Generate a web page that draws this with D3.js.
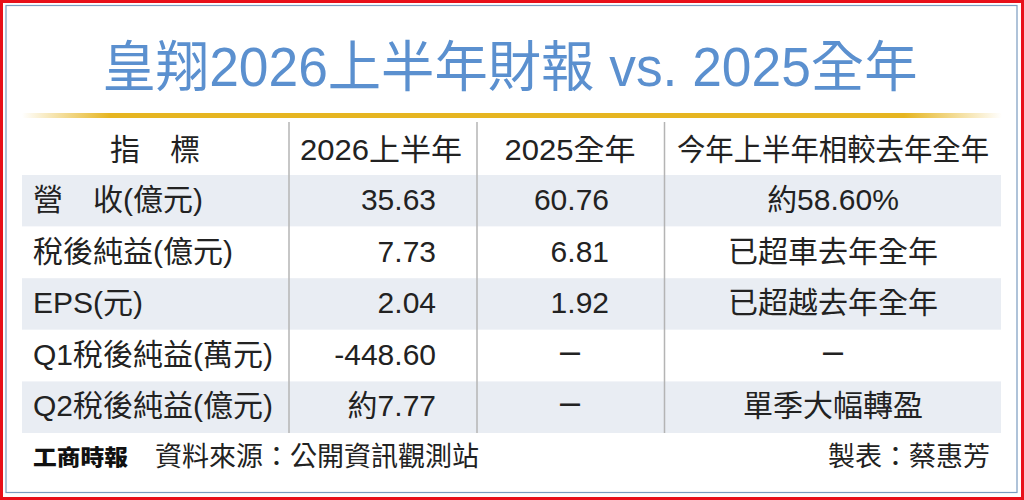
<!DOCTYPE html>
<html>
<head>
<meta charset="utf-8">
<script src="https://cdn.jsdelivr.net/npm/d3@7/dist/d3.min.js"></script>
<style>
  html, body { margin: 0; padding: 0; background: #fff; }
  svg { display: block; }
</style>
</head>
<body>
<script>
// ---- data ----
const title = "皇翔2026上半年財報 vs. 2025全年";
const headers = ["指　標", "2026上半年", "2025全年", "今年上半年相較去年全年"];
const rowLabels = ["營　收(億元)", "稅後純益(億元)", "EPS(元)", "Q1稅後純益(萬元)", "Q2稅後純益(億元)"];
const values2026 = ["35.63", "7.73", "2.04", "-448.60", "約7.77"];
const values2025 = ["60.76", "6.81", "1.92", "–", "–"];
const comparisons = ["約58.60%", "已超車去年全年", "已超越去年全年", "–", "單季大幅轉盈"];
const sourceText = "資料來源：公開資訊觀測站";
const makerText = "製表：蔡惠芳";
const logoText = "工商時報";

// ---- layout ----
const W = 1024, H = 500;
const FONT = "'Liberation Sans', Arial, 'Noto Sans CJK TC', sans-serif";
const TXT = "#222";
const svg = d3.select("body").append("svg").attr("width", W).attr("height", H);

// frame
svg.append("rect").attr("x", 1.5).attr("y", 1.5).attr("width", W - 3).attr("height", H - 3)
  .attr("fill", "#fff").attr("stroke", "#e8101a").attr("stroke-width", 3);
svg.append("rect").attr("x", 6).attr("y", 5.5).attr("width", 1011).attr("height", 487)
  .attr("fill", "#fff").attr("stroke", "#7a9cc0").attr("stroke-width", 1.2);

// title
svg.append("text").attr("x", 510).attr("y", 86).attr("text-anchor", "middle")
  .attr("font-family", FONT).attr("font-size", 55).attr("fill", "#5b90cf")
  .attr("textLength", 815).attr("lengthAdjust", "spacingAndGlyphs")
  .text(title);

// gold gradient rule
const defs = svg.append("defs");
const grad = defs.append("linearGradient").attr("id", "gold").attr("x1", "0").attr("x2", "1");
[[0, 0], [0.09, 1], [0.9, 1], [1, 0]].forEach(([o, a]) =>
  grad.append("stop").attr("offset", o).attr("stop-color", "#e6b521").attr("stop-opacity", a));
svg.append("rect").attr("x", 22).attr("y", 113).attr("width", 980).attr("height", 5).attr("fill", "url(#gold)");

// columns
const colEdges = [22, 289, 477, 664.5, 1001];
const y = d3.scaleBand().domain(d3.range(rowLabels.length)).range([175, 433]).padding(0);

// row stripes
svg.append("g").selectAll("rect").data(rowLabels).join("rect")
  .attr("x", colEdges[0]).attr("width", colEdges[4] - colEdges[0])
  .attr("y", (d, i) => y(i)).attr("height", y.bandwidth())
  .attr("fill", (d, i) => i % 2 === 0 ? "#e9edf3" : "#fff");

// column separators
svg.append("g").selectAll("line").data(colEdges.slice(1, 4)).join("line")
  .attr("x1", d => d).attr("x2", d => d).attr("y1", 122).attr("y2", 433)
  .attr("stroke", "#b4b4b4").attr("stroke-width", 1.5);

// header
const hx = [155, 381, 570, 833];
const hLen = [null, 162, 131, 312];
svg.append("g").selectAll("text").data(headers).join("text")
  .attr("x", (d, i) => hx[i]).attr("y", 160).attr("text-anchor", "middle")
  .attr("font-family", FONT).attr("font-size", 30).attr("fill", TXT)
  .each(function (d, i) {
    if (hLen[i]) d3.select(this).attr("textLength", hLen[i]).attr("lengthAdjust", "spacingAndGlyphs");
  })
  .text(d => d);

const body = svg.append("g").attr("font-family", FONT).attr("font-size", 30).attr("fill", TXT);
const base = i => y(i) + 35;
const isDash = d => d === "–";

body.selectAll("text.lab").data(rowLabels).join("text").attr("class", "lab")
  .attr("x", 33).attr("y", (d, i) => base(i)).text(d => d);

body.selectAll("text.v26").data(values2026).join("text").attr("class", "v26")
  .attr("x", 436).attr("y", (d, i) => base(i)).attr("text-anchor", "end").text(d => d);

body.selectAll("text.v25").data(values2025).join("text").attr("class", "v25")
  .attr("x", d => isDash(d) ? 570 : 609).attr("y", (d, i) => base(i) - (isDash(d) ? 2 : 0))
  .attr("text-anchor", d => isDash(d) ? "middle" : "end")
  .attr("font-size", d => isDash(d) ? 36 : 30).text(d => d);

body.selectAll("text.cmp").data(comparisons).join("text").attr("class", "cmp")
  .attr("x", 833).attr("y", (d, i) => base(i) - (isDash(d) ? 2 : 0)).attr("text-anchor", "middle")
  .attr("font-size", d => isDash(d) ? 36 : 30).text(d => d);

// footer
svg.append("text").attr("x", 33).attr("y", 465)
  .attr("font-family", "'Noto Sans CJK TC', sans-serif").attr("font-weight", 900)
  .attr("font-size", 22).attr("fill", "#111")
  .attr("textLength", 95).attr("lengthAdjust", "spacingAndGlyphs").text(logoText);
svg.append("text").attr("x", 155).attr("y", 466)
  .attr("font-family", FONT).attr("font-size", 27).attr("fill", TXT).text(sourceText);
svg.append("text").attr("x", 990).attr("y", 466).attr("text-anchor", "end")
  .attr("font-family", FONT).attr("font-size", 27).attr("fill", TXT).text(makerText);
</script>
</body>
</html>
